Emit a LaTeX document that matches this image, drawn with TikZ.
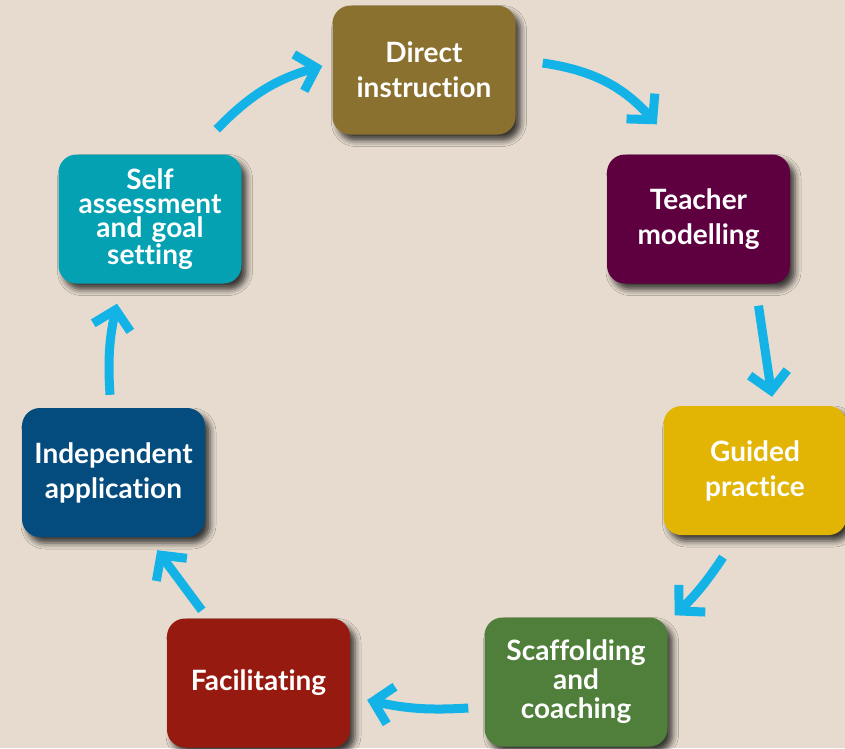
\documentclass[tikz,border=0pt]{standalone}
\usepackage{fontspec}
\setmainfont{Lato}[Ligatures=NoCommon]
\usetikzlibrary{arrows.meta,calc,shadows,shadows.blur}
\definecolor{backdrop}{HTML}{E6DBCE}
\definecolor{directbrown}{HTML}{8B712F}
\definecolor{teacherplum}{HTML}{5E0040}
\definecolor{guidedgold}{HTML}{E2B504}
\definecolor{scaffoldgreen}{HTML}{4F7F3A}
\definecolor{facilitatered}{HTML}{961A0F}
\definecolor{independentblue}{HTML}{044B7E}
\definecolor{selfteal}{HTML}{04A1B3}
\definecolor{cyclecyan}{HTML}{14B3E7}
\begin{document}
\begin{tikzpicture}[
			x=1pt, y=1pt,
			stage/.style={rounded corners=18pt, minimum width=183pt, minimum height=129pt,
					text width=180pt, inner sep=1.5pt, align=center, text=white,
					font=\bfseries\fontsize{28}{35}\selectfont,
					blur shadow={shadow xshift=5pt, shadow yshift=-6pt, shadow blur radius=6pt, shadow opacity=75}},
			cycle/.style={draw=cyclecyan, line width=9pt,
					-{Straight Barb[sharp, length=18pt, width=38pt]}}
		]
		\useasboundingbox (0,0) rectangle (845,-748);
		\fill[backdrop] (0,0) rectangle (845,-748);
		\node[stage, fill=directbrown] (direct) at (424,-70) {Direct\\instruction};
		\node[stage, fill=teacherplum] (teacher) at (698.5,-219) {Teacher\\modelling};
		\node[stage, fill=guidedgold] (guided) at (755,-470.5) {Guided\\practice};
		\node[stage, fill=scaffoldgreen, font=\bfseries\fontsize{28}{29}\selectfont] (scaffold) at (576,-682) {Scaffolding\\and\\coaching};
		\node[stage, fill=facilitatered] (facilitate) at (258.5,-683) {Facilitating};
		\node[stage, fill=independentblue] (independent) at (113.5,-472.5) {Independent\\application};
		\node[stage, fill=selfteal, font=\bfseries\fontsize{28}{24}\selectfont] (selfassess) at (150,-219) {Self\\assessment\\and goal\\setting};
		\draw[cycle] ($(selfassess.north east)+(-25,25)$) to[bend left=15] ($(direct.west)+(-10,4)$);
		\draw[cycle] ($(direct.east)+(27,7)$) to[bend left=20] ($(teacher.north west)+(50,30)$);
		\draw[cycle] ($(teacher.south)+(60,-22)$) to ($(guided.north)+(17,9)$);
		\draw[cycle] ($(guided.south)+(-32,-22)$) to[bend left=6] ($(scaffold.north east)+(7,2)$);
		\draw[cycle] ($(scaffold.west)+(-16,-26)$) to[bend left=8] ($(facilitate.east)+(17,-17)$);
		\draw[cycle] ($(facilitate.north west)+(35,8)$) to ($(independent.south east)+(-48,-13)$);
		\draw[cycle] ($(independent.north)+(-3.5,13)$) to[bend left=8] ($(selfassess.south)+(-33,-20)$);
	\end{tikzpicture}
\end{document}
